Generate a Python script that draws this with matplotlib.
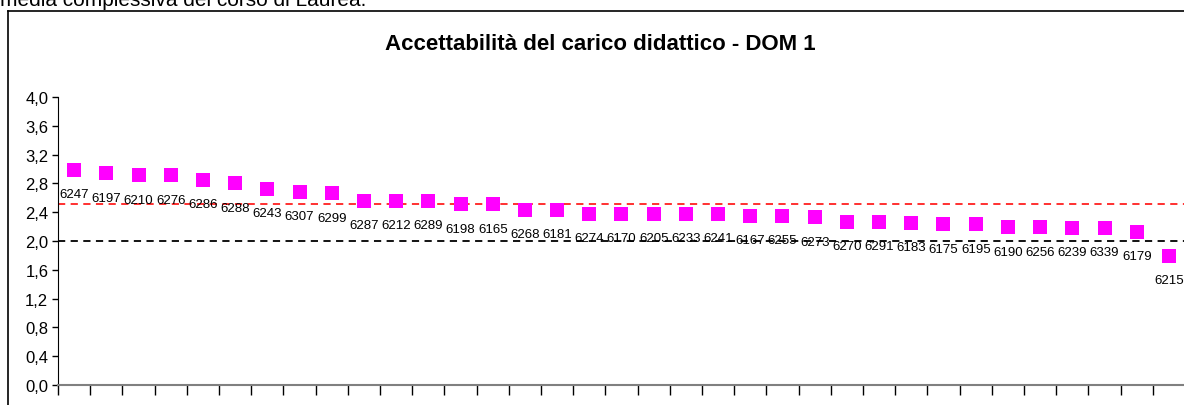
import numpy as np
import matplotlib.pyplot as plt
from matplotlib.lines import Line2D

plt.rcParams['font.family'] = ['Liberation Sans', 'DejaVu Sans']

# codici insegnamento e punteggi medi
codici = ["6247", "6197", "6210", "6276", "6286", "6288", "6243", "6307", "6299",
          "6287", "6212", "6289", "6198", "6165", "6268", "6181", "6274", "6170",
          "6205", "6233", "6241", "6167", "6255", "6273", "6270", "6291", "6183",
          "6175", "6195", "6190", "6256", "6239", "6339", "6179", "6215"]
valori = [2.99, 2.94, 2.91, 2.91, 2.85, 2.80, 2.72, 2.68, 2.66,
          2.56, 2.56, 2.56, 2.51, 2.51, 2.43, 2.43, 2.375, 2.375,
          2.375, 2.375, 2.375, 2.35, 2.35, 2.33, 2.27, 2.27, 2.25,
          2.23, 2.23, 2.19, 2.19, 2.18, 2.18, 2.13, 1.79]
media_corso = 2.52
soglia = 2.0
yticks = [0.0, 0.4, 0.8, 1.2, 1.6, 2.0, 2.4, 2.8, 3.2, 3.6, 4.0]

W, H = 1184, 406
fig = plt.figure(figsize=(W / 100, H / 100), dpi=100)
ax = fig.add_axes([58 / W, (H - 386) / H, 1127 / W, 288 / H])

x = np.arange(1, len(valori) + 1)
ax.plot(x, valori, 's', color='#FF00FF', markersize=10, markeredgewidth=0, zorder=3)
for xi, yi, c in zip(x, valori, codici):
    ax.annotate(c, (xi, yi), xytext=(0, -17.5), textcoords='offset points',
                ha='center', va='center', fontsize=9.5, color='black')

ax.axhline(media_corso, color='#FF2020', lw=1.3, ls=(0, (4, 3)), zorder=2)
ax.axhline(soglia, color='black', lw=1.3, ls=(0, (4, 3)), zorder=2)

ax.set_xlim(0.5, len(valori) + 0.5)
ax.set_ylim(0, 4.0)
ax.set_xticks(np.arange(0.5, len(valori) + 1, 1))
ax.set_xticklabels([])
ax.set_yticks(yticks)
ax.set_yticklabels([f"{v:.1f}".replace('.', ',') for v in yticks], fontsize=12)
ax.tick_params(axis='y', direction='out', length=4, width=1, pad=3)
ax.tick_params(axis='x', direction='out', length=7, width=1)
for s in ['top', 'right']:
    ax.spines[s].set_visible(False)
ax.spines['left'].set_color('black')
ax.spines['bottom'].set_color('#808080')
ax.spines['bottom'].set_linewidth(1.5)

# cornice del grafico
fig.add_artist(Line2D([8 / W, 8 / W], [0, (H - 12) / H], color='black', lw=1.2,
                      transform=fig.transFigure))
fig.add_artist(Line2D([8 / W, 1], [(H - 12) / H, (H - 12) / H], color='black', lw=1.2,
                      transform=fig.transFigure))

fig.text(600 / W, (H - 45) / H, "Accettabilità del carico didattico - DOM 1",
         ha='center', va='center', fontsize=16, fontweight='bold')
fig.text(0, (H - 6) / H, "media complessiva del corso di Laurea.",
         ha='left', va='baseline', fontsize=15)

fig.savefig('out.png', dpi=100)
